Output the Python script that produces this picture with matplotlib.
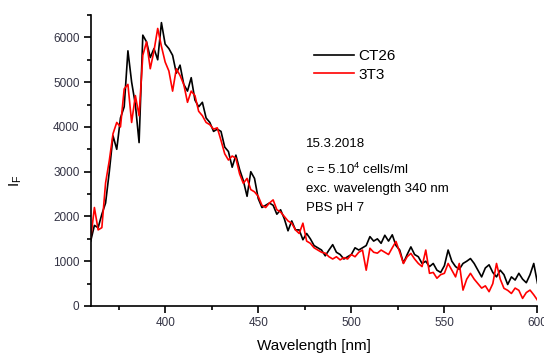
import numpy as np
import matplotlib
matplotlib.use("Agg")
import matplotlib.pyplot as plt
from matplotlib.ticker import MultipleLocator

plt.rcParams['font.family'] = ['Liberation Sans', 'DejaVu Sans']

wavelength = list(range(360, 601, 2))

ct26 = [1450, 1800, 1750, 2050, 2300, 3000, 3800, 3500, 4200, 4450,
        5700, 5000, 4500, 3650, 6050, 5900, 5550, 5750, 5500, 6330,
        5850, 5750, 5600, 5200, 5380, 4950, 4800, 5100, 4600, 4450,
        4550, 4200, 4100, 3900, 3950, 3900, 3550, 3450, 3100, 3370,
        3050, 2800, 2450, 3000, 2850, 2400, 2200, 2250, 2300, 2250,
        2050, 2150, 1950, 1680, 1900, 1700, 1700, 1480, 1620, 1500,
        1350, 1300, 1250, 1120, 1250, 1370, 1200, 1150, 1050, 1100,
        1150, 1300, 1250, 1300, 1350, 1550, 1450, 1500, 1400, 1580,
        1450, 1590, 1350, 1250, 960, 1150, 1320, 1150, 1100, 950,
        1000, 880, 950, 800, 750, 900, 1250, 1000, 880, 820,
        950, 1000, 1060, 950, 800, 650, 850, 920, 750, 650,
        800, 700, 480, 650, 580, 730, 600, 520, 700, 950,
        510]

t3t3 = [1500, 2200, 1700, 1750, 2750, 3250, 3850, 4100, 4000, 4850,
        4950, 4100, 4700, 4250, 5600, 5900, 5300, 5700, 6200, 5800,
        5450, 5250, 4800, 5300, 5150, 4950, 4550, 4800, 4700, 4350,
        4250, 4100, 4050, 3950, 3980, 3700, 3400, 3260, 3350, 3300,
        2950, 2740, 2850, 2600, 2550, 2450, 2250, 2200, 2300, 2370,
        2150, 2100, 2000, 1900, 1850, 1700, 1620, 1850, 1450, 1400,
        1300, 1250, 1200, 1180, 1100, 1050, 1100, 1030, 1080, 1050,
        1150, 1100, 1200, 1250, 800, 1290, 1200, 1180, 1250, 1200,
        1150, 1300, 1440, 1200, 950, 1100, 1175, 1050, 950, 880,
        1250, 730, 750, 620, 700, 730, 950, 800, 650, 950,
        355, 600, 730, 600, 500, 400, 450, 320, 500, 950,
        600, 395, 350, 280, 400, 350, 170, 300, 355, 250,
        130]

fig = plt.figure(figsize=(5.44, 3.54), dpi=100)
ax = fig.add_axes([0.1667, 0.1356, 0.8213, 0.822])

ax.plot(wavelength, ct26, color='black', lw=1.2, label='CT26')
ax.plot(wavelength, t3t3, color='#ff0000', lw=1.2, label='3T3')

ax.set_xlim(360, 600)
ax.set_ylim(0, 6500)
ax.xaxis.set_major_locator(MultipleLocator(50))
ax.xaxis.set_minor_locator(MultipleLocator(25))
ax.yaxis.set_major_locator(MultipleLocator(1000))
ax.yaxis.set_minor_locator(MultipleLocator(500))

for s in ['top', 'right']:
    ax.spines[s].set_visible(False)
for s in ['left', 'bottom']:
    ax.spines[s].set_linewidth(1.2)

ax.tick_params(which='major', direction='out', length=5, width=1.2,
               labelsize=8.5, labelcolor='#333344', pad=3)
ax.tick_params(which='minor', direction='out', length=3, width=1.2)

ax.set_xlabel('Wavelength [nm]', fontsize=11)
ax.xaxis.set_label_coords(0.5, -0.112)
ax.set_ylabel(r'I$_\mathregular{F}$', fontsize=11, rotation=90)
ax.yaxis.set_label_coords(-0.15, 0.43)

leg = ax.legend(loc='upper left', bbox_to_anchor=(0.47, 0.93), frameon=False,
                fontsize=11, handlelength=2.6, handletextpad=0.3,
                labelspacing=0.3)

tx = dict(transform=ax.transAxes, fontsize=9.5, ha='left', va='center')
ax.text(0.482, 0.555, '15.3.2018', **tx)
ax.text(0.482, 0.47, r'c = 5.10$^\mathregular{4}$ cells/ml', **tx)
ax.text(0.482, 0.403, 'exc. wavelength 340 nm', **tx)
ax.text(0.482, 0.336, 'PBS pH 7', **tx)

fig.savefig('out.png', dpi=100)
